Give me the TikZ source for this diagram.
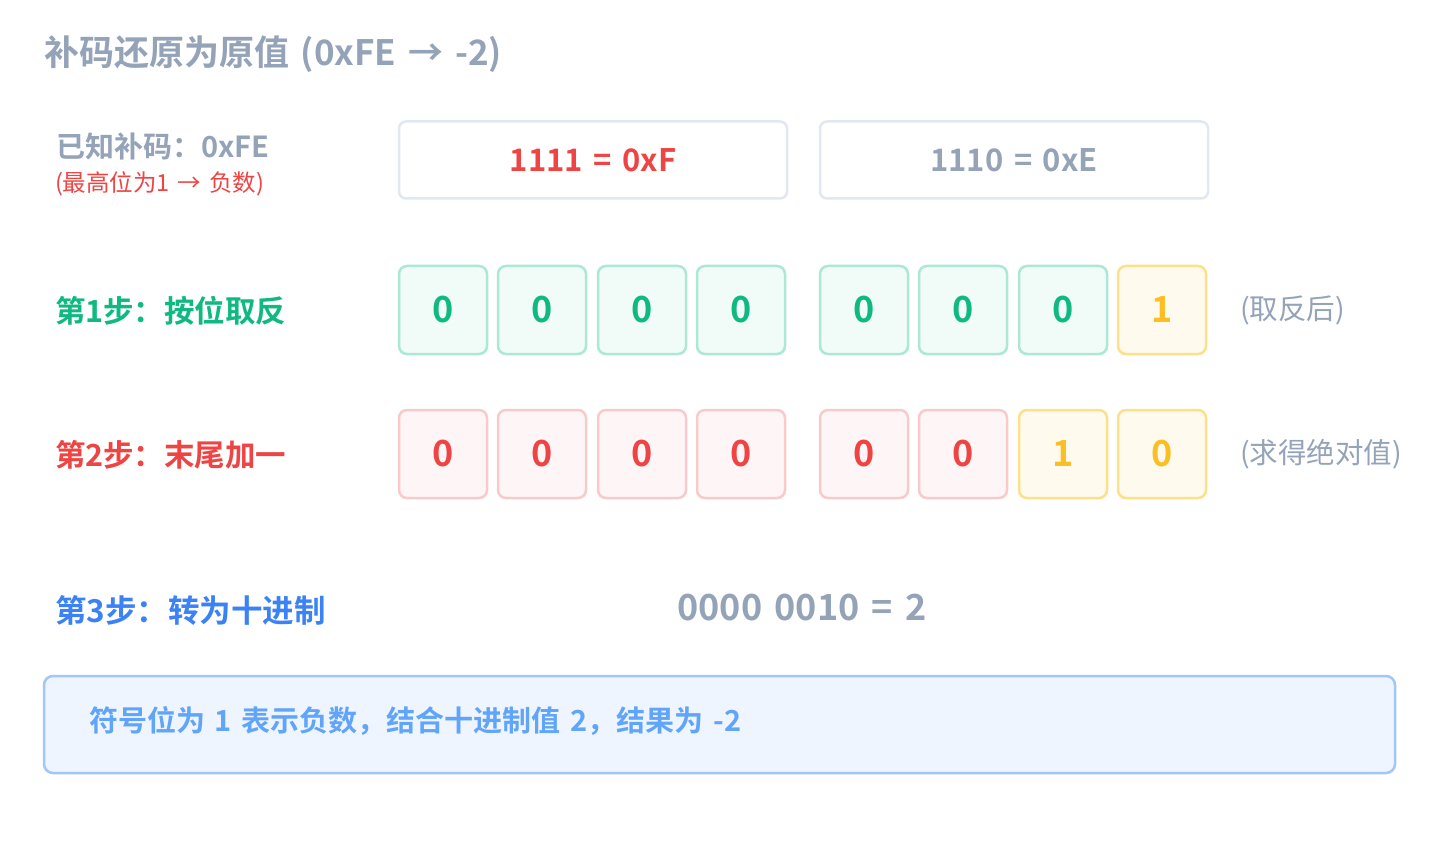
\documentclass[tikz,border=0pt]{standalone}
\usepackage{fontspec}
\setmainfont{Noto Sans CJK SC}[BoldFont={Noto Sans CJK SC Bold},WordSpace=1.5]
\definecolor{slate}{HTML}{94A3B8}
\definecolor{rd}{HTML}{EF4444}
\definecolor{gr}{HTML}{10B981}
\definecolor{bl}{HTML}{3B82F6}
\definecolor{lbl}{HTML}{60A5FA}
\definecolor{am}{HTML}{FBBF24}
\definecolor{HexBorder}{HTML}{E2E8F0}
\definecolor{GrB}{HTML}{ACE8D3}
\definecolor{GrF}{HTML}{F1FBF7}
\definecolor{YeB}{HTML}{FDE08A}
\definecolor{YeF}{HTML}{FFFAEE}
\definecolor{RdB}{HTML}{F8CACA}
\definecolor{RdF}{HTML}{FEF6F6}
\definecolor{BoxB}{HTML}{A3C6F8}
\definecolor{BoxF}{HTML}{EFF5FE}
\tikzset{
  every node/.style={inner sep=0pt,outer sep=0pt},
  hexbox/.style={draw=HexBorder,line width=2.5pt,fill=white,rounded corners=7pt,minimum width=388pt,minimum height=77pt,font=\fontsize{31}{34}\selectfont\bfseries},
  bit/.style={line width=2.5pt,rounded corners=8pt,minimum width=88pt,minimum height=88pt,font=\fontsize{36}{40}\selectfont\bfseries},
  gbit/.style={bit,draw=GrB,fill=GrF,text=gr},
  ybit/.style={bit,draw=YeB,fill=YeF,text=am},
  rbit/.style={bit,draw=RdB,fill=RdF,text=rd},
  steplabel/.style={anchor=west,font=\fontsize{30.5}{34}\selectfont\bfseries},
  note/.style={anchor=west,text=slate,font=\fontsize{28.5}{32}\selectfont},
}
\begin{document}
\begin{tikzpicture}[x=1pt,y=-1pt]
\useasboundingbox[fill=white] (0,0) rectangle (1440,842);
% title
\node[anchor=west,text=slate,font=\fontsize{35}{40}\selectfont\bfseries] (title) at (44,54) {补码还原为原值 (0xFE → -2)};
% known
\node[anchor=west,text=slate,font=\fontsize{29}{32}\selectfont\bfseries] (known) at (56,146) {已知补码：0xFE};
\node[anchor=west,text=rd,font=\fontsize{23.5}{26}\selectfont] (knownnote) at (55,184) {(最高位为1 → 负数)};
\node[hexbox,text=rd] (hexA) at (593,160) {1111 = 0xF};
\node[hexbox,text=slate] (hexB) at (1014,160) {1110 = 0xE};
% step 1
\node[steplabel,text=gr] (s1) at (55,311) {第1步：按位取反};
\node[gbit] (a1) at (443,310) {0};
\node[gbit] (a2) at (542,310) {0};
\node[gbit] (a3) at (642,310) {0};
\node[gbit] (a4) at (741,310) {0};
\node[gbit] (a5) at (864,310) {0};
\node[gbit] (a6) at (963,310) {0};
\node[gbit] (a7) at (1063,310) {0};
\node[ybit] (a8) at (1162,310) {1};
\node[note] (n1) at (1240,310) {(取反后)};
% step 2
\node[steplabel,text=rd] (s2) at (55,455) {第2步：末尾加一};
\node[rbit] (b1) at (443,454) {0};
\node[rbit] (b2) at (542,454) {0};
\node[rbit] (b3) at (642,454) {0};
\node[rbit] (b4) at (741,454) {0};
\node[rbit] (b5) at (864,454) {0};
\node[rbit] (b6) at (963,454) {0};
\node[ybit] (b7) at (1063,454) {1};
\node[ybit] (b8) at (1162,454) {0};
\node[note] (n2) at (1240,454) {(求得绝对值)};
% step 3
\node[anchor=west,text=bl,font=\fontsize{31.5}{34}\selectfont\bfseries] (s3) at (55,610) {第3步：转为十进制};
\node[text=slate,font=\fontsize{36}{40}\selectfont\bfseries] (res) at (802,608) {0000 0010 = 2};
% bottom box
\node[draw=BoxB,fill=BoxF,line width=2.5pt,rounded corners=9pt,minimum width=1351pt,minimum height=97pt] (box) at (719.5,724.5) {};
\node[anchor=west,text=lbl,font=\fontsize{29}{32}\selectfont\bfseries] (boxtext) at (89,721) {符号位为 1 表示负数，结合十进制值 2，结果为 -2};
\end{tikzpicture}
\end{document}
